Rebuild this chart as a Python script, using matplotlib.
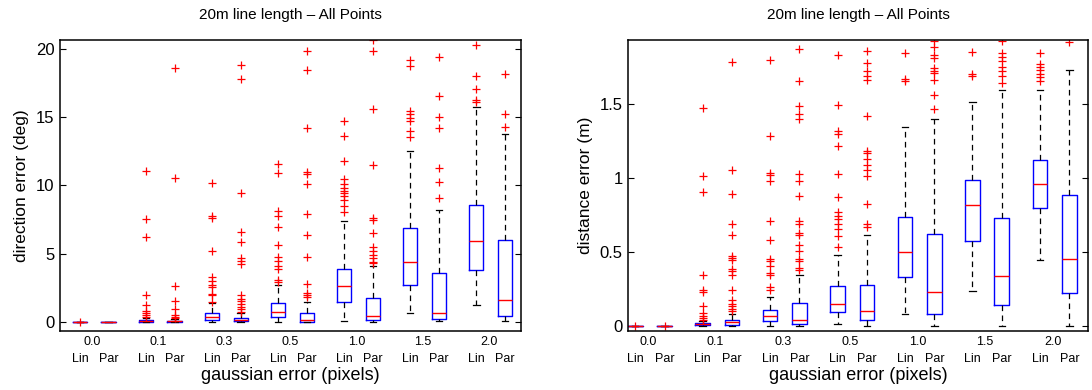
import numpy as np
import matplotlib
matplotlib.use('Agg')
import matplotlib.pyplot as plt

plt.rcParams['font.family'] = ['Liberation Sans', 'DejaVu Sans']

# gruppen (gaussian error) und methoden
groups = ['0.0', '0.1', '0.3', '0.5', '1.0', '1.5', '2.0']
methods = ['Lin', 'Par']

# richtungsfehler (deg), reihenfolge: Lin0.0, Par0.0, Lin0.1, Par0.1, ...
dir_whislo = [0, 0, 0, 0, 0, 0, 0, 0, 0.1, 0.02, 0.66, 0.05, 1.27, 0.05]
dir_q1 = [0, 0, 0.02, 0.01, 0.17, 0.05, 0.39, 0.02, 1.44, 0.12, 2.73, 0.22, 3.83, 0.44]
dir_med = [0, 0, 0.08, 0.04, 0.37, 0.17, 0.76, 0.17, 2.61, 0.46, 4.4, 0.68, 5.93, 1.59]
dir_q3 = [0, 0, 0.15, 0.1, 0.63, 0.32, 1.37, 0.63, 3.91, 1.78, 6.86, 3.56, 8.6, 5.98]
dir_whishi = [0, 0, 0.3, 0.2, 1.39, 0.68, 2.73, 1.44, 7.42, 4.1, 12.5, 8.23, 15.78, 13.8]
dir_fliers = [
    [0.0],
    [],
    [11.04, 7.55, 6.2, 1.98, 1.22, 0.78, 0.65, 0.5, 0.4],
    [18.58, 10.52, 2.66, 1.51, 0.97, 0.53, 0.36, 0.3],
    [10.18, 7.79, 7.62, 5.18, 3.32, 2.98, 2.71, 2.54, 2.07, 1.95, 1.46],
    [18.85, 17.78, 9.47, 6.59, 5.86, 4.66, 4.47, 4.27, 2.0, 1.71, 1.51, 1.32, 1.12, 0.98, 0.71],
    [11.57, 10.94, 8.13, 7.74, 6.94, 5.64, 4.76, 4.49, 4.12, 3.88, 3.08, 2.91],
    [19.88, 18.46, 14.21, 11.01, 10.87, 10.11, 7.91, 6.4, 4.76, 2.78, 2.12, 1.95, 1.81],
    [14.73, 13.65, 11.77, 10.45, 10.13, 9.84, 9.57, 9.43, 9.23, 8.96, 8.47, 8.08],
    [20.68, 19.88, 15.63, 11.5, 7.62, 7.5, 6.5, 5.49, 5.22, 4.93, 4.69, 4.4, 4.3],
    [19.22, 18.75, 15.48, 15.25, 14.95, 14.7, 13.97, 13.58],
    [19.41, 16.53, 15.0, 14.21, 11.26, 10.26, 9.11],
    [20.32, 18.0, 17.05, 16.29, 16.1],
    [18.17, 15.22, 14.31],
]

# distanzfehler (m)
dist_whislo = [0, 0, 0, 0, 0, 0, 0.014, 0, 0.077, 0, 0.233, 0, 0.445, 0]
dist_q1 = [0, 0, 0.002, 0.007, 0.032, 0.014, 0.095, 0.041, 0.33, 0.081, 0.575, 0.138, 0.794, 0.221]
dist_med = [0, 0, 0.011, 0.023, 0.063, 0.041, 0.145, 0.097, 0.497, 0.23, 0.817, 0.334, 0.959, 0.449]
dist_q3 = [0, 0, 0.018, 0.041, 0.108, 0.154, 0.266, 0.277, 0.738, 0.62, 0.984, 0.729, 1.119, 0.882]
dist_whishi = [0, 0, 0.03, 0.079, 0.196, 0.343, 0.476, 0.616, 1.342, 1.396, 1.511, 1.597, 1.595, 1.73]
dist_fliers = [
    [0.0],
    [0.0],
    [1.475, 1.015, 0.905, 0.341, 0.24, 0.228, 0.131, 0.084, 0.068, 0.052, 0.039],
    [1.786, 1.051, 0.889, 0.69, 0.616, 0.474, 0.458, 0.442, 0.384, 0.368, 0.34,
     0.242, 0.174, 0.15, 0.13, 0.115, 0.1],
    [1.8, 1.281, 1.035, 1.022, 0.981, 0.706, 0.58, 0.449, 0.44, 0.406, 0.359, 0.34, 0.26, 0.24],
    [1.874, 1.658, 1.489, 1.432, 1.4, 1.026, 0.981, 0.877, 0.706, 0.69, 0.627, 0.616,
     0.548, 0.503, 0.454, 0.44, 0.39, 0.38],
    [1.829, 1.495, 1.315, 1.3, 1.218, 1.026, 0.869, 0.769, 0.74, 0.72, 0.69, 0.655, 0.61, 0.53],
    [1.861, 1.778, 1.72, 1.69, 1.66, 1.42, 1.184, 1.168, 1.13, 1.09, 1.05, 1.01, 0.823, 0.69, 0.668],
    [1.845, 1.671, 1.653],
    [1.928, 1.884, 1.834, 1.811, 1.744, 1.72, 1.71, 1.66, 1.563, 1.468],
    [1.85, 1.705, 1.69],
    [1.924, 1.845, 1.82, 1.79, 1.748, 1.72, 1.69, 1.642],
    [1.843, 1.773, 1.75, 1.728, 1.705, 1.683, 1.653],
    [1.92],
]

title = '20m line length \u2013 All Points'

# positionen: Lin links, Par rechts von der gruppenmitte
positions = []
for g in range(len(groups)):
    positions.append(g - 0.218)
    positions.append(g + 0.218)


def make_stats(whislo, q1, med, q3, whishi, fliers):
    stats = []
    for i in range(len(med)):
        stats.append(dict(whislo=whislo[i], q1=q1[i], med=med[i], q3=q3[i],
                          whishi=whishi[i], fliers=np.array(fliers[i])))
    return stats


def draw(ax, stats, ylim, yticks, yticklabels, xlim, ylabel):
    ax.bxp(stats, positions=positions, widths=0.22, capwidths=0.1,
           showfliers=True,
           boxprops=dict(color='#0000ff', linewidth=1.0),
           medianprops=dict(color='#ff0000', linewidth=1.0),
           whiskerprops=dict(color='black', linewidth=0.9, linestyle=(0, (4.5, 3.5))),
           capprops=dict(color='black', linewidth=0.9),
           flierprops=dict(marker='+', markeredgecolor='#ff0000',
                           markersize=6, markeredgewidth=0.9, linestyle='none'))
    ax.set_xlim(xlim)
    ax.set_ylim(ylim)
    ax.set_yticks(yticks)
    ax.set_yticklabels(yticklabels, fontsize=12)
    ax.set_xticks([])
    ax.tick_params(axis='y', direction='in', length=4, width=0.8,
                   right=True, left=True, pad=4)
    for sp in ax.spines.values():
        sp.set_linewidth(1.1)
    ax.set_title(title, fontsize=11, pad=15)
    ax.set_ylabel(ylabel, fontsize=12.5, labelpad=5)
    tr = ax.get_xaxis_transform()
    for g, name in enumerate(groups):
        ax.text(g - 0.03, -0.037, name, transform=tr, ha='center', va='center', fontsize=9)
    for i, p in enumerate(positions):
        ax.text(p, -0.097, methods[i % 2], transform=tr, ha='center', va='center', fontsize=9)
    ax.text(0.5, -0.152, 'gaussian error (pixels)', transform=ax.transAxes,
            ha='center', va='center', fontsize=13)


fig = plt.figure(figsize=(10.92, 3.9), dpi=100)
ax1 = fig.add_axes([0.0549, 0.1513, 0.4222, 0.7462])
ax2 = fig.add_axes([0.5754, 0.1513, 0.4207, 0.7462])

draw(ax1, make_stats(dir_whislo, dir_q1, dir_med, dir_q3, dir_whishi, dir_fliers),
     (-0.66, 20.66), [0, 5, 10, 15, 20], ['0', '5', '10', '15', '20'],
     (-0.52, 6.46), 'direction error (deg)')
draw(ax2, make_stats(dist_whislo, dist_q1, dist_med, dist_q3, dist_whishi, dist_fliers),
     (-0.036, 1.933), [0, 0.5, 1, 1.5], ['0', '0.5', '1', '1.5'],
     (-0.318, 6.49), 'distance error (m)')

fig.savefig('out.png', dpi=100)
